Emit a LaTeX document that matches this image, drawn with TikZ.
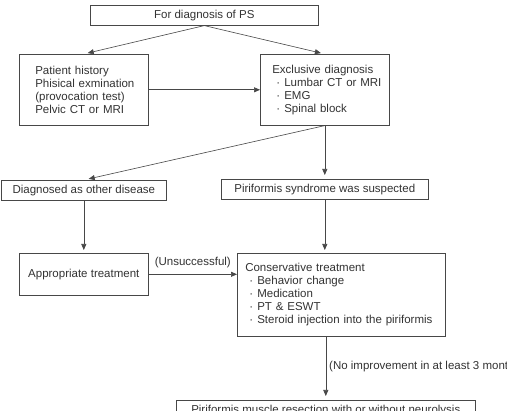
\documentclass[tikz,border=0pt]{standalone}
\usepackage{fontspec}
\setmainfont{Liberation Sans}
\usetikzlibrary{arrows.meta,calc}
\definecolor{linec}{HTML}{474747}
\definecolor{textc}{HTML}{333333}
\newcommand\bul{\makebox[12pt][l]{\hspace*{4pt}·}}
\tikzset{
  box/.style={draw=linec, line width=0.6pt, rectangle, inner sep=0pt, text=textc,
    font=\fontsize{11.5}{13}\selectfont},
  lbox/.style={box, align=left, inner xsep=1pt},
  arr/.style={draw=linec, line width=0.6pt, -{Triangle[length=6pt,width=5pt]}},
  lab/.style={text=textc, inner sep=0pt, font=\fontsize{11.5}{13}\selectfont}
}
\begin{document}
\begin{tikzpicture}[x=1pt,y=-1pt]
\fill[white] (0,0) rectangle (507,411);
\clip (0,0) rectangle (507,411);
\node[box, anchor=north west, minimum width=228, minimum height=20] (top) at (90,5) {For diagnosis of PS};
\node[lbox, anchor=north west, minimum width=129, minimum height=71, text width=127] (L1) at (19,54)
  {\hspace*{15pt}Patient history\\\hspace*{15pt}Phisical exmination\\\hspace*{15pt}(provocation test)\\\hspace*{15pt}Pelvic CT or MRI};
\node[lbox, anchor=north west, minimum width=129, minimum height=71, text width=127] (R1) at (260,54)
  {\hspace*{11pt}Exclusive diagnosis\\\hspace*{11pt}\bul Lumbar CT or MRI\\\hspace*{11pt}\bul EMG\\\hspace*{11pt}\bul Spinal block};
\node[box, anchor=north west, minimum width=165, minimum height=20] (D1) at (1,180) {Diagnosed as other disease};
\node[box, anchor=north west, minimum width=207, minimum height=20] (P1) at (221,179) {Piriformis syndrome was suspected};
\node[box, anchor=north west, minimum width=129, minimum height=42] (A1) at (19,253) {Appropriate treatment};
\node[lbox, anchor=north west, minimum width=208, minimum height=83, text width=206] (C1) at (237,253)
  {\hspace*{7pt}Conservative treatment\\\hspace*{7pt}\bul Behavior change\\\hspace*{7pt}\bul Medication\\\hspace*{7pt}\bul PT \& ESWT\\\hspace*{7pt}\bul Steroid injection into the piriformis};
\node[box, anchor=north west, minimum width=299, minimum height=21] (B1) at (176,400) {Piriformis muscle resection with or without neurolysis};
\draw[arr, shorten >=4pt] (top.south) -- (L1.north);
\draw[arr, shorten >=4pt] (top.south) -- (R1.north);
\draw[arr] (L1.east) -- (R1.west);
\draw[arr, shorten >=5pt] (R1.south) -- (D1.north);
\draw[arr, shorten >=4pt] (R1.south) -- (R1.south |- P1.north);
\draw[arr, shorten >=3pt] (D1.south) -- (A1.north);
\draw[arr, shorten >=3pt] (P1.south) -- (P1.south |- C1.north);
\draw[arr] (A1.east) -- (C1.west |- A1.east) node[lab, midway, above=6pt] (u1) {(Unsuccessful)};
\draw[arr, shorten >=4pt] (B1.north |- C1.south) -- (B1.north);
\node[lab, anchor=west] (n1) at (329,367) {(No improvement in at least 3 months)};
\end{tikzpicture}
\end{document}
